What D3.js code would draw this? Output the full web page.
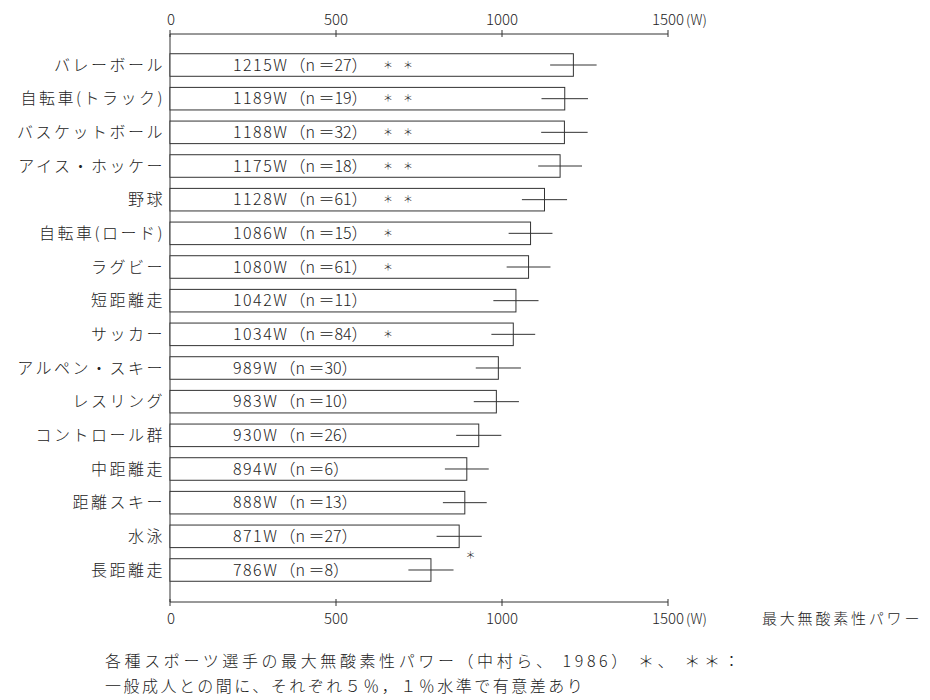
<!DOCTYPE html>
<html>
<head>
<meta charset="utf-8">
<title>最大無酸素性パワー</title>
<script src="https://d3js.org/d3.v7.min.js"></script>
<style>
  body { margin: 0; background: #fff; }
  text { font-family: "Noto Sans CJK JP", "Noto Sans", sans-serif; fill: #222; font-weight: 300; }
</style>
</head>
<body>
<svg id="chart" width="930" height="700"></svg>
<script>

// data
var sports = ["バレーボール", "自転車(トラック)", "バスケットボール", "アイス・ホッケー", "野球",
              "自転車(ロード)", "ラグビー", "短距離走", "サッカー", "アルペン・スキー",
              "レスリング", "コントロール群", "中距離走", "距離スキー", "水泳", "長距離走"];
var power = [1215, 1189, 1188, 1175, 1128, 1086, 1080, 1042, 1034, 989, 983, 930, 894, 888, 871, 786];
var nSize = [27, 19, 32, 18, 61, 15, 61, 11, 84, 30, 10, 26, 6, 13, 27, 8];
var sd    = [70, 70, 70, 66, 68, 66, 66, 68, 66, 68, 68, 68, 66, 66, 68, 68];
var sig   = ["＊＊", "＊＊", "＊＊", "＊＊", "＊＊", "＊", "＊", "", "＊", "", "", "", "", "", "", "＊"];
var ticks = [0, 500, 1000, 1500];

var svg = d3.select("#chart");

var x = d3.scaleLinear().domain([0, 1500]).range([170, 668]);
var y = d3.scaleBand().domain(sports).range([47, 588]).paddingInner(0.33).paddingOuter(0.2);

var axisTop = 34, axisBottom = 602;

// axes lines
var g = svg.append("g").attr("stroke", "#333").attr("stroke-width", 1);
g.append("line").attr("x1", x(0)).attr("x2", x(1500)).attr("y1", axisTop).attr("y2", axisTop);
g.append("line").attr("x1", x(0)).attr("x2", x(1500)).attr("y1", axisBottom).attr("y2", axisBottom);
g.append("line").attr("x1", x(0)).attr("x2", x(0)).attr("y1", axisTop).attr("y2", axisBottom);
ticks.forEach(function(t){
  g.append("line").attr("x1", x(t)).attr("x2", x(t)).attr("y1", axisTop - 4).attr("y2", axisTop + 3);
  g.append("line").attr("x1", x(t)).attr("x2", x(t)).attr("y1", axisBottom - 3).attr("y2", axisBottom + 4);
});

// tick labels, top and bottom
[axisTop - 14, axisBottom + 17].forEach(function(ty){
  svg.selectAll(null).data(ticks).enter().append("text")
    .attr("x", function(d){ return x(d) + (d === 0 ? 1 : 0); })
    .attr("y", ty)
    .attr("dy", "0.35em")
    .attr("text-anchor", "middle")
    .style("font-size", "15px")
    .text(function(d){ return d; });
  svg.append("text").attr("x", x(1500) + 18).attr("y", ty).attr("dy", "0.35em")
    .style("font-size", "14px").text("(W)");
});

svg.append("text").attr("x", 762).attr("y", axisBottom + 17).attr("dy", "0.35em")
  .style("font-size", "15px").style("letter-spacing", "2.8px").text("最大無酸素性パワー");

// category labels
svg.selectAll(".cat").data(sports).enter().append("text")
  .attr("class", "cat")
  .attr("x", 165)
  .attr("y", function(d){ return y(d) + y.bandwidth() / 2; })
  .attr("dy", "0.35em")
  .attr("text-anchor", "end")
  .style("font-size", "16px")
  .style("letter-spacing", "2.5px")
  .text(function(d){ return d; });

// bars
var rows = svg.selectAll(".row").data(sports).enter().append("g").attr("class", "row");

rows.append("rect")
  .attr("x", x(0))
  .attr("y", function(d){ return y(d); })
  .attr("width", function(d, i){ return x(power[i]) - x(0); })
  .attr("height", y.bandwidth())
  .attr("fill", "#fff")
  .attr("stroke", "#333")
  .attr("stroke-width", 1);

// error bars
rows.append("line")
  .attr("x1", function(d, i){ return x(power[i] - sd[i]); })
  .attr("x2", function(d, i){ return x(power[i] + sd[i]); })
  .attr("y1", function(d){ return y(d) + y.bandwidth() / 2; })
  .attr("y2", function(d){ return y(d) + y.bandwidth() / 2; })
  .attr("stroke", "#333")
  .attr("stroke-width", 1);

// value labels
var vt = rows.append("text")
  .attr("x", 233)
  .attr("y", function(d){ return y(d) + y.bandwidth() / 2; })
  .attr("dy", "0.35em")
  .style("font-size", "16px");
vt.append("tspan")
  .style("letter-spacing", "1.5px")
  .text(function(d, i){ return power[i] + "W"; });
vt.append("tspan")
  .attr("dx", 1)
  .text(function(d, i){ return "（n ＝" + nSize[i] + "）"; });

// significance marks (long-distance mark sits outside the bar)
rows.append("text")
  .attr("x", function(d, i){ return i === 15 ? x(power[i] + sd[i]) + 12 : 383; })
  .attr("y", function(d, i){ return y(d) + y.bandwidth() / 2 - (i === 15 ? 14 : 0); })
  .attr("dy", "0.35em")
  .style("font-size", "10px")
  .style("letter-spacing", "10px")
  .text(function(d, i){ return sig[i]; });

// caption
var caption = ["各種スポーツ選手の最大無酸素性パワー（中村ら、 1986） ＊、 ＊＊：",
               "一般成人との間に、それぞれ５％，１％水準で有意差あり"];
var capSpacing = [3.6, 2.5];
svg.selectAll(".cap").data(caption).enter().append("text")
  .attr("class", "cap")
  .attr("x", 105)
  .attr("y", function(d, i){ return 661 + i * 25; })
  .attr("dy", "0.35em")
  .style("font-size", "16px")
  .style("letter-spacing", function(d, i){ return capSpacing[i] + "px"; })
  .text(function(d){ return d; });

</script>
</body>
</html>
